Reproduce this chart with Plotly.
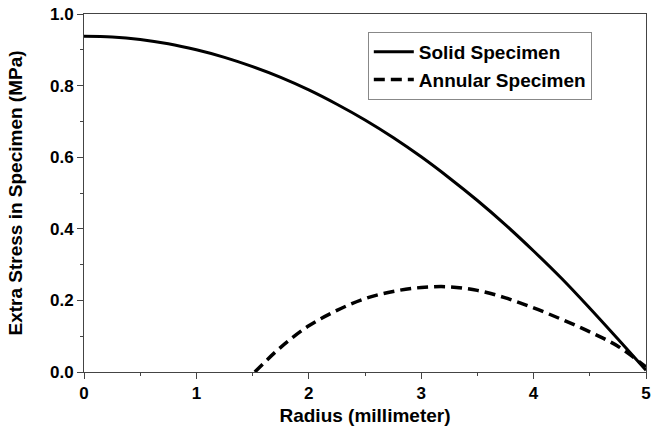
import plotly.graph_objects as go

# Radial position (mm) and extra stress (MPa) for the two specimen types
radius_solid = [0.0, 0.25, 0.5, 0.75, 1.0, 1.25, 1.5, 1.75, 2.0, 2.25, 2.5,
                2.75, 3.0, 3.25, 3.5, 3.75, 4.0, 4.25, 4.5, 4.75, 5.0]
stress_solid = [0.938, 0.936, 0.929, 0.917, 0.900, 0.879, 0.853, 0.823, 0.788,
                0.748, 0.704, 0.655, 0.601, 0.542, 0.479, 0.411, 0.338, 0.261,
                0.178, 0.092, 0.005]

radius_annular = [1.52, 1.75, 2.0, 2.25, 2.5, 2.75, 3.0, 3.25, 3.5, 3.75,
                  4.0, 4.25, 4.5, 4.75, 5.0]
stress_annular = [0.0, 0.069, 0.129, 0.172, 0.205, 0.225, 0.236, 0.238,
                  0.228, 0.207, 0.179, 0.147, 0.112, 0.072, 0.014]

x_ticks = [0, 1, 2, 3, 4, 5]
y_ticks = [0.0, 0.2, 0.4, 0.6, 0.8, 1.0]

FONT = "Liberation Sans, Arial, sans-serif"

fig = go.Figure()
fig.add_trace(go.Scatter(
    x=radius_solid, y=stress_solid, mode="lines", name="Solid Specimen",
    line=dict(color="black", width=3, shape="spline"),
))
fig.add_trace(go.Scatter(
    x=radius_annular, y=stress_annular, mode="lines", name="Annular Specimen",
    line=dict(color="black", width=3.5, dash="11px,6px", shape="spline"),
))

axis_common = dict(
    showline=True, linecolor="#444", linewidth=1, mirror=True,
    ticks="outside", ticklen=6, tickcolor="#444", tickwidth=1,
    showgrid=False, zeroline=False,
    tickfont=dict(family=FONT, size=17, color="black", weight="bold"),
)

fig.update_layout(
    width=653, height=434,
    margin=dict(l=84, r=2, t=14, b=62),
    paper_bgcolor="white", plot_bgcolor="white",
    font=dict(family=FONT, color="black"),
    xaxis=dict(
        range=[0, 5], tickvals=x_ticks, ticklabeloverflow="allow",
        minor=dict(dtick=0.5, ticks="outside", ticklen=3, tickcolor="#444"),
        title=dict(text="Radius (millimeter)", standoff=6,
                   font=dict(family=FONT, size=19, weight="bold")),
        **axis_common,
    ),
    yaxis=dict(
        range=[0, 1], tickvals=y_ticks, tickformat=".1f",
        minor=dict(dtick=0.1, ticks="outside", ticklen=3, tickcolor="#444"),
        title=dict(text="Extra Stress in Specimen (MPa)", standoff=22,
                   font=dict(family=FONT, size=19, weight="bold")),
        **axis_common,
    ),
    legend=dict(
        x=0.505, y=0.95, xanchor="left", yanchor="top",
        bordercolor="#888", borderwidth=1, bgcolor="white",
        font=dict(family=FONT, size=19, color="black", weight="bold"),
        tracegroupgap=0, itemwidth=40,
    ),
    showlegend=True,
)

fig.write_html("out.html")
